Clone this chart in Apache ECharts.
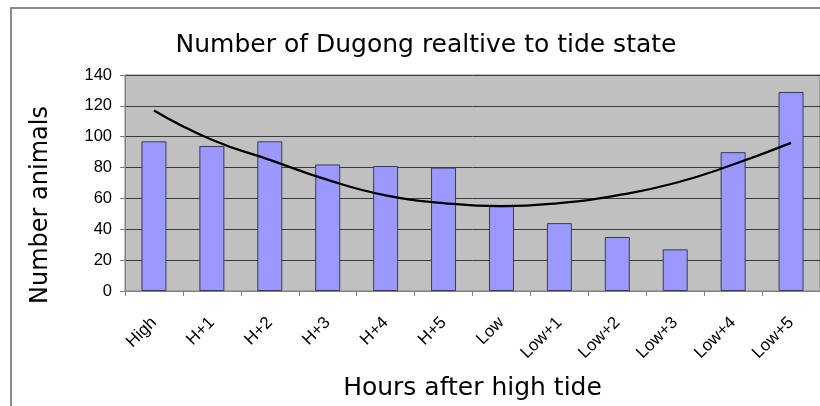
<!DOCTYPE html>
<html>
<head>
<meta charset="utf-8">
<script src="https://cdn.jsdelivr.net/npm/echarts@6/dist/echarts.min.js"></script>
<style>
  html, body { margin: 0; padding: 0; background: #fff; }
  #chart { width: 820px; height: 406px; }
</style>
</head>
<body>
<div id="chart"></div>
<script>
  // categories and readings
  var hours = ['High', 'H+1', 'H+2', 'H+3', 'H+4', 'H+5', 'Low', 'Low+1', 'Low+2', 'Low+3', 'Low+4', 'Low+5'];
  var animals = [97, 94, 97, 82, 81, 80, 55, 44, 35, 27, 90, 129];
  // trend curve
  var trend = [117, 98, 85, 72, 62, 57, 55, 57, 62, 70, 82, 96];
  var yTicks = [0, 20, 40, 60, 80, 100, 120, 140];

  var font = '"Liberation Sans", Arial, sans-serif';
  var bigFont = '"DejaVu Sans", sans-serif';
  var chart = echarts.init(document.getElementById('chart'));

  chart.setOption({
    animation: false,
    title: {
      text: 'Number of Dugong realtive to tide state',
      left: 421,
      top: 28,
      textAlign: 'center',
      textStyle: { fontFamily: bigFont, fontSize: 25, fontWeight: 'normal', color: '#000' }
    },
    graphic: [{
      type: 'rect',
      shape: { x: 11, y: 8, width: 830, height: 420 },
      style: { fill: 'none', stroke: '#8a8a8a', lineWidth: 2 },
      z: -1
    }],
    grid: {
      left: 125,
      right: 0,
      top: 75,
      bottom: 115,
      show: true,
      backgroundColor: '#c0c0c0',
      borderColor: '#808080',
      borderWidth: 1
    },
    xAxis: {
      type: 'category',
      data: hours,
      name: 'Hours after high tide',
      nameLocation: 'middle',
      nameGap: 85,
      nameTextStyle: { fontFamily: bigFont, fontSize: 25, color: '#000' },
      axisLine: { lineStyle: { color: '#808080', width: 1 } },
      axisTick: { show: true, length: 5, lineStyle: { color: '#808080' } },
      axisLabel: {
        rotate: 45,
        margin: 29,
        fontFamily: font,
        fontSize: 17,
        color: '#000'
      }
    },
    yAxis: {
      type: 'value',
      min: yTicks[0],
      max: yTicks[yTicks.length - 1],
      interval: 20,
      name: 'Number animals',
      nameLocation: 'middle',
      nameGap: 72,
      nameTextStyle: { fontFamily: bigFont, fontSize: 24, color: '#000', padding: [0, 44, 0, 0] },
      axisLine: { show: true, lineStyle: { color: '#808080', width: 1 } },
      axisTick: { show: true, length: 5, lineStyle: { color: '#808080' } },
      axisLabel: { fontFamily: font, fontSize: 16.5, color: '#000', margin: 13 },
      splitLine: { lineStyle: { color: '#3a3a3a', width: 1 } }
    },
    series: [
      {
        type: 'bar',
        data: animals,
        barWidth: 25,
        itemStyle: { color: '#9999ff', borderColor: '#3c3c50', borderWidth: 1 }
      },
      {
        type: 'line',
        data: trend,
        smooth: 0.5,
        symbol: 'none',
        lineStyle: { color: '#000', width: 2.2 },
        z: 3
      }
    ]
  });
</script>
</body>
</html>
